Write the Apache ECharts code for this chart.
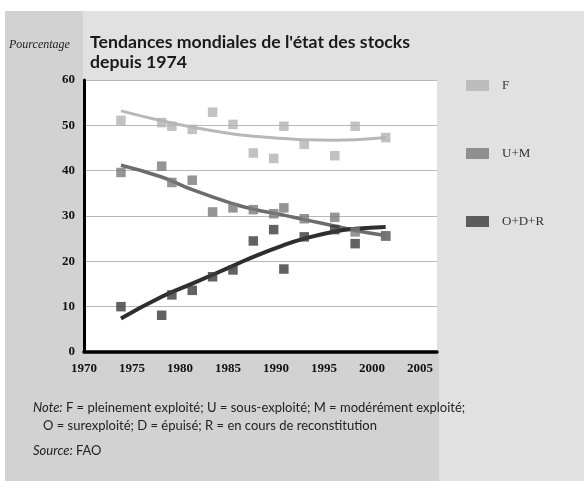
<!DOCTYPE html>
<html><head><meta charset="utf-8">
<script src="https://cdn.jsdelivr.net/npm/echarts@6/dist/echarts.min.js"></script>
<style>html,body{margin:0;padding:0;background:#fff}#c{width:584px;height:481px}</style>
</head><body><div id="c"></div>
<script>
const years = [1974, 1978, 1979, 1981, 1983, 1985, 1987, 1989, 1990, 1992, 1995, 1997, 2000];
const valsF = [51.1, 50.6, 49.8, 49.1, 52.9, 50.2, 43.9, 42.7, 49.8, 45.8, 43.3, 49.8, 47.3];
const valsUM = [39.6, 41.0, 37.4, 37.9, 30.9, 31.8, 31.4, 30.5, 31.8, 29.4, 29.7, 26.5, 25.6];
const valsODR = [10.0, 8.1, 12.6, 13.6, 16.6, 18.1, 24.5, 27.0, 18.3, 25.4, 27.0, 23.9, 25.6];
const trendYears = [1974, 1978, 1981, 1985, 1987, 1990, 1992, 1995, 1997, 2000];
const trendF = [53.2, 51.0, 49.6, 48.1, 47.6, 47.1, 46.8, 46.7, 46.8, 47.3];
const trendUM = [41.2, 38.6, 35.8, 32.7, 31.5, 30.2, 29.2, 27.8, 26.8, 25.7];
const trendODR = [7.4, 12.2, 15.1, 19.0, 21.0, 23.6, 25.0, 26.6, 27.2, 27.6];
const xTicks = [1970, 1975, 1980, 1985, 1990, 1995, 2000, 2005];
const seriesNames = ['F', 'U+M', 'O+D+R'];

const pair = (xs, ys) => xs.map((x, i) => [x, ys[i]]);
const serif = '"Liberation Serif", "DejaVu Serif", serif';
const sans = 'Lato, "Open Sans", sans-serif';
const markerColors = ['#b3b3b3', '#7b7b7b', '#3b3b3b'];
const lineColors = ['#b8b8b8', '#6c6c6c', '#2e2e2e'];

const chart = echarts.init(document.getElementById('c'), null, {renderer: 'canvas'});
const G = {left: 84, top: 80, width: 353, height: 272};

chart.setOption({
  animation: false,
  backgroundColor: '#ffffff',
  graphic: {
    elements: [
      {type: 'rect', z: -100, silent: true, shape: {x: 5, y: 11, width: 579, height: 470}, style: {fill: '#e1e1e1'}},
      {type: 'rect', z: -99, silent: true, shape: {x: 5, y: 11, width: 78, height: 470}, style: {fill: '#d2d2d2'}},
      {type: 'rect', z: -99, silent: true, shape: {x: 5, y: 352, width: 434, height: 129}, style: {fill: '#d2d2d2'}},
      {type: 'rect', z: -98, silent: true, shape: {x: 84, y: 80, width: 353, height: 272}, style: {fill: '#ffffff'}},
      {type: 'text', z: 10, left: 9, top: 39, style: {text: 'Pourcentage', font: 'italic 12px ' + serif, fill: '#222'}},
      {type: 'text', z: 10, left: 90, top: 32, style: {text: "Tendances mondiales de l'état des stocks\ndepuis 1974", font: 'bold 17.7px ' + sans, fill: '#1a1a1a', lineHeight: 20}},
      {type: 'text', z: 10, left: 33, top: 399, style: {
        text: '{i|Note:} F = pleinement exploité; U = sous-exploité; M = modérément exploité;\n   O = surexploité; D = épuisé; R = en cours de reconstitution',
        font: '13px ' + sans, fill: '#222', lineHeight: 18,
        rich: {i: {fontStyle: 'italic', fontFamily: sans, fontSize: 13, fill: '#222'}}
      }},
      {type: 'text', z: 10, left: 33, top: 444, style: {
        text: '{i|Source:} FAO', font: '13px ' + sans, fill: '#222',
        rich: {i: {fontStyle: 'italic', fontFamily: sans, fontSize: 13, fill: '#222'}}
      }}
    ]
  },
  grid: {left: G.left, top: G.top, width: G.width, height: G.height, containLabel: false},
  legend: {
    data: seriesNames,
    orient: 'vertical', left: 461, top: 74,
    itemWidth: 23, itemHeight: 11, itemGap: 55, icon: 'rect',
    textStyle: {fontFamily: serif, fontSize: 13, color: '#333', padding: [0, 0, 0, 8]}
  },
  xAxis: [
    {
      type: 'value', min: 1970, max: 2006.77, interval: 5,
      axisLine: {show: true, lineStyle: {color: '#000', width: 3.5}},
      axisTick: {show: false}, splitLine: {show: false},
      axisLabel: {
        margin: 10, fontFamily: serif, fontWeight: 'bold', fontSize: 13, color: '#111',
        formatter: v => xTicks.includes(Math.round(v * 100) / 100) ? String(v) : ''
      }
    },
    {type: 'value', min: 1970.37, max: 2005.04, show: false}
  ],
  yAxis: {
    type: 'value', min: 0, max: 60, interval: 10,
    axisLine: {show: true, lineStyle: {color: '#000', width: 3}},
    axisTick: {show: false},
    splitLine: {show: true, lineStyle: {color: '#b8b8b8', width: 1}},
    axisLabel: {margin: 9, fontFamily: serif, fontWeight: 'bold', fontSize: 13, color: '#111'}
  },
  series: [
    {name: 'F trend', type: 'line', xAxisIndex: 1, smooth: true, symbol: 'none', z: 3,
      data: pair(trendYears, trendF), lineStyle: {color: lineColors[0], width: 3}},
    {name: 'U+M trend', type: 'line', xAxisIndex: 1, smooth: true, symbol: 'none', z: 3,
      data: pair(trendYears, trendUM), lineStyle: {color: lineColors[1], width: 3.5}},
    {name: 'O+D+R trend', type: 'line', xAxisIndex: 1, smooth: true, symbol: 'none', z: 3,
      data: pair(trendYears, trendODR), lineStyle: {color: lineColors[2], width: 4}},
    {name: 'O+D+R', type: 'scatter', xAxisIndex: 1, symbol: 'rect', symbolSize: 9.5, z: 4,
      data: pair(years, valsODR), itemStyle: {color: markerColors[2]}},
    {name: 'U+M', type: 'scatter', xAxisIndex: 1, symbol: 'rect', symbolSize: 9.5, z: 5,
      data: pair(years, valsUM), itemStyle: {color: markerColors[1]}},
    {name: 'F', type: 'scatter', xAxisIndex: 1, symbol: 'rect', symbolSize: 9.5, z: 5,
      data: pair(years, valsF), itemStyle: {color: markerColors[0]}}
  ]
});
</script></body></html>
